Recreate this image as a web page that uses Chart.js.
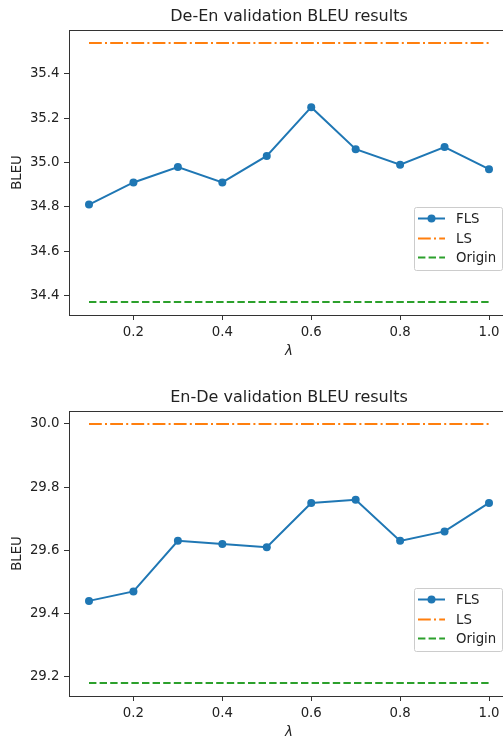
<!DOCTYPE html>
<html>
<head>
<meta charset="utf-8">
<script src="https://cdn.jsdelivr.net/npm/chart.js@4"></script>
<style>
  html, body { margin: 0; padding: 0; background: #fff; overflow: hidden; width: 503px; height: 739px; }
  .panel { position: absolute; left: 0; width: 520px; height: 370px; }
  #panel-de-en { top: 0; }
  #panel-en-de { top: 381px; }
</style>
</head>
<body>
<div class="panel" id="panel-de-en"><canvas id="chart-de-en"></canvas></div>
<div class="panel" id="panel-en-de"><canvas id="chart-en-de"></canvas></div>
<script>
// valores
const lambdas = [0.1, 0.2, 0.3, 0.4, 0.5, 0.6, 0.7, 0.8, 0.9, 1.0];
const xTicks = [0.2, 0.4, 0.6, 0.8, 1.0];

const deEnFls = [34.81, 34.91, 34.98, 34.91, 35.03, 35.25, 35.06, 34.99, 35.07, 34.97];
const deEnLs = [35.54, 35.54, 35.54, 35.54, 35.54, 35.54, 35.54, 35.54, 35.54, 35.54];
const deEnOrigin = [34.37, 34.37, 34.37, 34.37, 34.37, 34.37, 34.37, 34.37, 34.37, 34.37];
const deEnTicks = [34.4, 34.6, 34.8, 35.0, 35.2, 35.4];

const enDeFls = [29.44, 29.47, 29.63, 29.62, 29.61, 29.75, 29.76, 29.63, 29.66, 29.75];
const enDeLs = [30.0, 30.0, 30.0, 30.0, 30.0, 30.0, 30.0, 30.0, 30.0, 30.0];
const enDeOrigin = [29.18, 29.18, 29.18, 29.18, 29.18, 29.18, 29.18, 29.18, 29.18, 29.18];
const enDeTicks = [29.2, 29.4, 29.6, 29.8, 30.0];

const FONT = 'DejaVu Sans';
const TEXT = '#222';
const AXIS = '#333';
const SIZE = 13.3;

Chart.defaults.font.family = FONT;
Chart.defaults.color = TEXT;

// moldura do eixo (linha de cima) e legenda no estilo matplotlib
const framePlugin = {
  id: 'frame',
  afterDraw(chart) {
    const { ctx, chartArea: a } = chart;
    ctx.save();
    ctx.strokeStyle = AXIS;
    ctx.lineWidth = 1;
    ctx.beginPath();
    ctx.moveTo(a.left, a.top + 0.5);
    ctx.lineTo(a.right, a.top + 0.5);
    ctx.stroke();

    // legenda
    const w = 88, h = 63;
    const left = a.right - 7 - w;
    const top = a.bottom - 45 - h;
    ctx.beginPath();
    ctx.roundRect(left + 0.5, top + 0.5, w, h, 2);
    ctx.fillStyle = 'rgba(255,255,255,0.8)';
    ctx.fill();
    ctx.strokeStyle = '#ccc';
    ctx.stroke();

    chart.data.datasets.forEach((ds, i) => {
      const y = Math.round(top + 11 + i * 19.5) + 0.5;
      ctx.strokeStyle = ds.borderColor;
      ctx.lineWidth = ds.borderWidth;
      ctx.setLineDash(ds.borderDash || []);
      ctx.beginPath();
      ctx.moveTo(left + 4, y);
      ctx.lineTo(left + 31, y);
      ctx.stroke();
      ctx.setLineDash([]);
      if (ds.pointRadius > 0) {
        ctx.fillStyle = ds.borderColor;
        ctx.beginPath();
        ctx.arc(left + 17.5, y, ds.pointRadius, 0, Math.PI * 2);
        ctx.fill();
      }
      ctx.fillStyle = TEXT;
      ctx.font = SIZE + 'px ' + FONT;
      ctx.textBaseline = 'middle';
      ctx.fillText(ds.label, left + 42, y + 1);
    });
    ctx.restore();
  }
};

function pairs(values) {
  return lambdas.map((x, i) => ({ x, y: values[i] }));
}

function createPanel(canvas, title, fls, ls, origin, yTicks) {
  const all = fls.concat(ls, origin);
  const lo = Math.min(...all), hi = Math.max(...all);
  const pad = (hi - lo) * 0.05;
  const xPad = (lambdas[lambdas.length - 1] - lambdas[0]) * 0.05;

  return new Chart(canvas, {
    type: 'line',
    data: {
      datasets: [{
        label: 'FLS',
        data: pairs(fls),
        borderColor: '#1f77b4',
        backgroundColor: '#1f77b4',
        borderWidth: 2,
        pointRadius: 4,
        pointBorderWidth: 0,
        tension: 0
      }, {
        label: 'LS',
        data: pairs(ls),
        borderColor: '#ff7f0e',
        borderWidth: 2,
        borderDash: [12.8, 3.2, 2, 3.2],
        pointRadius: 0
      }, {
        label: 'Origin',
        data: pairs(origin),
        borderColor: '#2ca02c',
        borderWidth: 2,
        borderDash: [7.4, 3.2],
        pointRadius: 0
      }]
    },
    options: {
      responsive: true,
      maintainAspectRatio: false,
      animation: false,
      devicePixelRatio: 1,
      layout: { padding: { left: 0, right: 11, top: 0, bottom: 0 } },
      plugins: {
        legend: { display: false },
        tooltip: { enabled: false },
        title: {
          display: true,
          fullSize: false,
          text: title,
          color: TEXT,
          font: { family: FONT, size: 16, weight: 'normal' },
          padding: { top: 7.4, bottom: 3.4 }
        }
      },
      scales: {
        x: {
          type: 'linear',
          min: lambdas[0] - xPad,
          max: lambdas[lambdas.length - 1] + xPad,
          afterBuildTicks: s => { s.ticks = xTicks.map(v => ({ value: v })); },
          afterFit: s => { s.height = 55; },
          ticks: {
            callback: v => v.toFixed(1),
            font: { family: FONT, size: SIZE },
            color: TEXT,
            padding: 4.5,
            maxRotation: 0,
            autoSkip: false
          },
          grid: { display: true, drawOnChartArea: false, drawTicks: true, tickLength: 5, tickColor: AXIS, tickWidth: 1 },
          border: { display: true, color: AXIS, width: 1 },
          title: {
            display: true,
            text: 'λ',
            color: TEXT,
            font: { family: FONT, size: SIZE, style: 'italic' },
            padding: { top: 0, bottom: 10 }
          }
        },
        y: {
          min: lo - pad,
          max: hi + pad,
          afterBuildTicks: s => { s.ticks = yTicks.map(v => ({ value: v })); },
          afterFit: s => { s.width = 69; },
          ticks: {
            callback: v => v.toFixed(1),
            font: { family: FONT, size: SIZE },
            color: TEXT,
            padding: 4.5,
            autoSkip: false
          },
          grid: { display: true, drawOnChartArea: false, drawTicks: true, tickLength: 5, tickColor: AXIS, tickWidth: 1 },
          border: { display: true, color: AXIS, width: 1 },
          title: {
            display: true,
            text: 'BLEU',
            color: TEXT,
            font: { family: FONT, size: SIZE },
            padding: { top: 9.5, bottom: 0 }
          }
        }
      }
    },
    plugins: [framePlugin]
  });
}

createPanel(document.getElementById('chart-de-en'), 'De-En validation BLEU results',
  deEnFls, deEnLs, deEnOrigin, deEnTicks);
createPanel(document.getElementById('chart-en-de'), 'En-De validation BLEU results',
  enDeFls, enDeLs, enDeOrigin, enDeTicks);
</script>
</body>
</html>
